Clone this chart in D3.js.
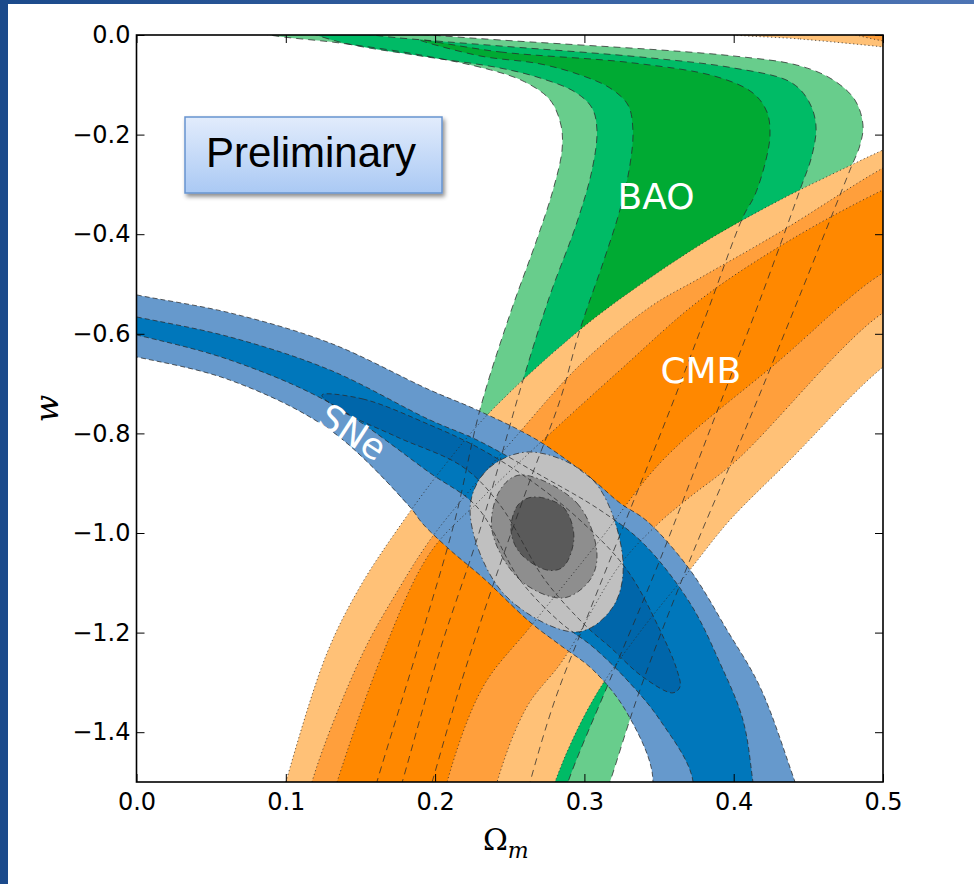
<!DOCTYPE html>
<html><head><meta charset="utf-8">
<script src="https://cdn.jsdelivr.net/npm/d3@7"></script>
<style>html,body{margin:0;padding:0;background:#fff;}svg{display:block;}</style>
</head><body>
<svg id="chart" width="974" height="884"></svg>
<script>
// Axis ticks
const xTicks = [0.0, 0.1, 0.2, 0.3, 0.4, 0.5];
const yTicks = [0.0, -0.2, -0.4, -0.6, -0.8, -1.0, -1.2, -1.4];

// Confidence contours, [Omega_m, w] (1, 2, 3 sigma)
const bao3 = [[0.063,0.018],[0.143,0.010],[0.2435,-0.010],[0.3995,-0.042],[0.4444,-0.062],[0.4665,-0.090],[0.4812,-0.1305],[0.4866,-0.181],[0.4846,-0.221],[0.4779,-0.271],[0.4444,-0.522],[0.4076,-0.793],[0.3707,-1.054],[0.3372,-1.315],[0.3171,-1.5],[0.3037,-1.617],[0.1497,-1.617],[0.161,-1.5],[0.190,-1.215],[0.2133,-0.974],[0.230,-0.753],[0.250,-0.562],[0.268,-0.412],[0.279,-0.311],[0.285,-0.231],[0.2843,-0.181],[0.277,-0.1305],[0.260,-0.094],[0.237,-0.070],[0.190,-0.040],[0.136,-0.016],[0.089,0.0]];
const bao2 = [[0.1095,0.014],[0.1765,-0.006],[0.2435,-0.022],[0.344,-0.046],[0.3995,-0.066],[0.4377,-0.094],[0.4498,-0.1305],[0.4551,-0.181],[0.4525,-0.241],[0.4444,-0.311],[0.4176,-0.532],[0.3841,-0.793],[0.3506,-1.054],[0.3171,-1.295],[0.289,-1.5],[0.277,-1.617],[0.1665,-1.617],[0.178,-1.5],[0.2033,-1.235],[0.230,-0.994],[0.2589,-0.693],[0.277,-0.522],[0.2944,-0.3815],[0.3051,-0.271],[0.3084,-0.191],[0.3051,-0.1466],[0.2937,-0.1145],[0.2703,-0.0863],[0.2435,-0.0663],[0.190,-0.042],[0.136,-0.014]];
const bao1 = [[0.190,-0.010],[0.2435,-0.034],[0.3325,-0.056],[0.3888,-0.084],[0.4129,-0.1165],[0.4223,-0.1546],[0.4243,-0.2008],[0.4216,-0.251],[0.4142,-0.3213],[0.4062,-0.3655],[0.3821,-0.558],[0.3573,-0.753],[0.3305,-0.954],[0.3037,-1.155],[0.2803,-1.335],[0.2636,-1.5],[0.2535,-1.617],[0.1865,-1.617],[0.198,-1.5],[0.218,-1.295],[0.240,-1.094],[0.2636,-0.894],[0.2837,-0.733],[0.297,-0.592],[0.3131,-0.452],[0.3238,-0.351],[0.3305,-0.261],[0.3325,-0.191],[0.3292,-0.1406],[0.3171,-0.1064],[0.297,-0.080],[0.2703,-0.058],[0.230,-0.042]];

const cmb3 = [[0.0894,-1.617],[0.100,-1.5],[0.1276,-1.241],[0.1497,-1.108],[0.1745,-0.994],[0.2066,-0.8635],[0.2368,-0.757],[0.297,-0.592],[0.3419,-0.492],[0.3861,-0.4056],[0.431,-0.3313],[0.4759,-0.2651],[0.5,-0.2309],[0.538,-0.181],[0.538,-0.592],[0.5,-0.6667],[0.4377,-0.8534],[0.3975,-0.974],[0.3707,-1.074],[0.3372,-1.199],[0.3058,-1.335],[0.2803,-1.5],[0.270,-1.617]];
const cmb2 = [[0.1095,-1.617],[0.1175,-1.5],[0.151,-1.245],[0.1752,-1.1145],[0.1966,-1.014],[0.2234,-0.9137],[0.2522,-0.813],[0.297,-0.6627],[0.344,-0.546],[0.3774,-0.488],[0.431,-0.3956],[0.5,-0.2671],[0.538,-0.211],[0.538,-0.512],[0.5,-0.558],[0.4022,-0.8534],[0.3707,-0.9277],[0.3506,-0.978],[0.3238,-1.064],[0.2857,-1.255],[0.2615,-1.349],[0.2415,-1.5],[0.2334,-1.617]];
const cmb1 = [[0.1229,-1.617],[0.1343,-1.5],[0.1651,-1.241],[0.1966,-1.040],[0.230,-0.934],[0.2703,-0.819],[0.3238,-0.673],[0.3774,-0.532],[0.4377,-0.412],[0.5,-0.311],[0.538,-0.261],[0.538,-0.432],[0.5,-0.478],[0.431,-0.6526],[0.3526,-0.8534],[0.3104,-1.014],[0.2636,-1.189],[0.2321,-1.309],[0.208,-1.5],[0.200,-1.617]];
const cmbTop3 = [[0.394,0.004],[0.4444,-0.008],[0.5,-0.024],[0.5315,-0.036],[0.5315,0.030],[0.420,0.020]];
const cmbTop2 = [[0.4745,0.010],[0.5,-0.012],[0.5315,-0.022],[0.5315,0.030]];

const sne3 = [[-0.0244,-0.506],[0.0003,-0.522],[0.0626,-0.558],[0.1296,-0.6185],[0.1966,-0.713],[0.2281,-0.753],[0.2682,-0.813],[0.3058,-0.8936],[0.3238,-0.9398],[0.3419,-0.976],[0.3707,-1.074],[0.3955,-1.1948],[0.4176,-1.309],[0.4411,-1.5],[0.4545,-1.617],[0.3305,-1.617],[0.3459,-1.5],[0.3285,-1.361],[0.3058,-1.275],[0.2837,-1.225],[0.2636,-1.179],[0.2321,-1.090],[0.210,-1.034],[0.1919,-0.982],[0.1832,-0.948],[0.1296,-0.793],[0.0626,-0.693],[0.0003,-0.6466],[-0.0244,-0.6325]];
const sne2 = [[-0.0244,-0.552],[0.0003,-0.5663],[0.0626,-0.6064],[0.1296,-0.6727],[0.1966,-0.7731],[0.2281,-0.8133],[0.2703,-0.8835],[0.3104,-0.9538],[0.3392,-1.0201],[0.3707,-1.1406],[0.3908,-1.261],[0.4062,-1.3755],[0.4129,-1.5],[0.4176,-1.617],[0.364,-1.617],[0.3728,-1.5],[0.3506,-1.3755],[0.3285,-1.295],[0.3058,-1.2289],[0.2837,-1.179],[0.2569,-1.0944],[0.2281,-0.9478],[0.1966,-0.8795],[0.1296,-0.739],[0.0626,-0.6526],[0.0003,-0.6024],[-0.0244,-0.586]];
const sne1 = [[0.1242,-0.7229],[0.1517,-0.7309],[0.1966,-0.7831],[0.2281,-0.8273],[0.2636,-0.8936],[0.297,-0.974],[0.3285,-1.074],[0.3506,-1.1948],[0.362,-1.2751],[0.364,-1.309],[0.3593,-1.321],[0.3392,-1.2892],[0.3171,-1.2289],[0.3017,-1.1888],[0.2736,-1.0944],[0.2435,-0.9438],[0.2187,-0.8675],[0.1745,-0.8072],[0.1363,-0.753]];

const comb3 = [[0.2636,-0.8373],[0.3058,-0.8936],[0.3258,-1.0542],[0.3191,-1.1486],[0.295,-1.1988],[0.2455,-1.1205],[0.2234,-0.9538],[0.2347,-0.8735]];
const comb2 = [[0.2569,-0.8835],[0.295,-0.9398],[0.3084,-1.0402],[0.3037,-1.0944],[0.2857,-1.1305],[0.2569,-1.0944],[0.2381,-0.994],[0.2435,-0.9137]];
const comb1 = [[0.2656,-0.9277],[0.2857,-0.9478],[0.293,-1.008],[0.2857,-1.0683],[0.2749,-1.0743],[0.2569,-1.0402],[0.2508,-0.994],[0.2555,-0.9438]];

const probes = [
  {name: "BAO",  levels: [bao3, bao2, bao1], colors: ["#68cd8c", "#00bb66", "#00aa33"], dash: "7,5"},
  {name: "CMB",  levels: [cmb3, cmbTop3, cmb2, cmbTop2, cmb1], colors: ["#ffc177", "#ffc177", "#ff9f3c", "#ff9f3c", "#ff8800"], dash: "1.2,2.6"},
  {name: "SNe",  levels: [sne3, sne2, sne1], colors: ["#6699cc", "#0077bb", "#0066aa"], dash: "5,3"},
  {name: "All",  levels: [comb3, comb2, comb1], colors: ["#c0c0c0", "#8e8e8e", "#5a5a5a"], dash: "6,3,1.5,3"}
];

// Probe names, placed at the centre of the lettering
const probeLabels = [
  {text: "BAO", at: [0.348, -0.323], rot: 0},
  {text: "CMB", at: [0.378, -0.673], rot: 0},
  {text: "SNe", at: [0.145, -0.797], rot: 33}
];

const W = 974, H = 884;
const svg = d3.select("#chart");
const x = d3.scaleLinear().domain([0, 0.5]).range([136.5, 883]);
const y = d3.scaleLinear().domain([0, -1.5]).range([35, 782]);

// Slide frame
const defs = svg.append("defs");
const topGrad = defs.append("linearGradient").attr("id", "topGrad");
topGrad.append("stop").attr("offset", "0%").attr("stop-color", "#1b4a8b");
topGrad.append("stop").attr("offset", "100%").attr("stop-color", "#4d74b4");
const boxGrad = defs.append("linearGradient").attr("id", "boxGrad").attr("x1", 0).attr("y1", 0).attr("x2", 0).attr("y2", 1);
boxGrad.append("stop").attr("offset", "0%").attr("stop-color", "#e2ecfc");
boxGrad.append("stop").attr("offset", "100%").attr("stop-color", "#aac9f4");
const shadow = defs.append("filter").attr("id", "shadow").attr("x", "-10%").attr("y", "-10%").attr("width", "130%").attr("height", "140%");
shadow.append("feDropShadow").attr("dx", 2).attr("dy", 3).attr("stdDeviation", 2).attr("flood-color", "#000").attr("flood-opacity", 0.45);
defs.append("clipPath").attr("id", "plotClip").append("rect")
  .attr("x", x(0)).attr("y", y(0)).attr("width", x(0.5) - x(0)).attr("height", y(-1.5) - y(0));

svg.append("rect").attr("x", 0).attr("y", 0).attr("width", W).attr("height", 4).attr("fill", "url(#topGrad)");
svg.append("rect").attr("x", 0).attr("y", 0).attr("width", 8).attr("height", H).attr("fill", "#1b4a8b");

const line = d3.line().x(d => x(d[0])).y(d => y(d[1])).curve(d3.curveCatmullRomClosed.alpha(0.5));

const plot = svg.append("g").attr("clip-path", "url(#plotClip)");
// Filled regions, then every contour outline on top
probes.forEach(p => {
  p.levels.forEach((lv, i) => {
    plot.append("path").attr("d", line(lv)).attr("fill", p.colors[i]).attr("stroke", "none");
  });
});
probes.forEach(p => {
  p.levels.forEach(lv => {
    plot.append("path").attr("d", line(lv)).attr("fill", "none")
      .attr("stroke", "#2a2a2a").attr("stroke-opacity", 0.75).attr("stroke-width", 1)
      .attr("stroke-dasharray", p.dash);
  });
});

probeLabels.forEach(l => {
  plot.append("text")
    .attr("transform", `translate(${x(l.at[0])},${y(l.at[1])}) rotate(${l.rot})`)
    .attr("text-anchor", "middle")
    .attr("dy", "0.36em")
    .attr("font-family", "DejaVu Sans")
    .attr("font-size", 36)
    .attr("fill", "#fff")
    .text(l.text);
});

// Axes: ticks point inward on all four sides
const tickLen = 8;
const fmt = d3.format(".1f");
const axisG = svg.append("g");
axisG.append("g").attr("transform", `translate(0,${y(-1.5)})`)
  .call(d3.axisBottom(x).tickValues(xTicks).tickFormat(fmt).tickSizeInner(-tickLen).tickSizeOuter(0).tickPadding(11));
axisG.append("g").attr("transform", `translate(0,${y(0)})`)
  .call(d3.axisTop(x).tickValues(xTicks).tickFormat("").tickSizeInner(-tickLen).tickSizeOuter(0));
axisG.append("g").attr("transform", `translate(${x(0)},0)`)
  .call(d3.axisLeft(y).tickValues(yTicks).tickFormat(fmt).tickSizeInner(-tickLen).tickSizeOuter(0).tickPadding(6));
axisG.append("g").attr("transform", `translate(${x(0.5)},0)`)
  .call(d3.axisRight(y).tickValues(yTicks).tickFormat("").tickSizeInner(-tickLen).tickSizeOuter(0));
axisG.selectAll(".domain").remove();
axisG.selectAll(".tick line").attr("stroke", "#000").attr("stroke-width", 1);
axisG.selectAll(".tick text").attr("font-family", "DejaVu Sans").attr("font-size", 24).attr("fill", "#000");

svg.append("rect").attr("x", x(0)).attr("y", y(0)).attr("width", x(0.5) - x(0)).attr("height", y(-1.5) - y(0))
  .attr("fill", "none").attr("stroke", "#000").attr("stroke-width", 1.6);

// Axis titles
const xt = svg.append("text").attr("x", (x(0) + x(0.5)) / 2 - 4).attr("y", 850).attr("text-anchor", "middle")
  .attr("font-family", "DejaVu Serif").attr("font-size", 30).attr("fill", "#000");
xt.append("tspan").text("Ω");
xt.append("tspan").attr("font-style", "italic").attr("font-size", 22).attr("dy", 8).text("m");
svg.append("text").attr("transform", `translate(58,${(y(0) + y(-1.5)) / 2}) rotate(-90)`)
  .attr("text-anchor", "middle").attr("font-family", "DejaVu Serif").attr("font-style", "italic")
  .attr("font-size", 32).attr("fill", "#000").text("w");

// Preliminary badge
svg.append("rect").attr("x", 185).attr("y", 117).attr("width", 257).attr("height", 76)
  .attr("fill", "url(#boxGrad)").attr("stroke", "#6794cf").attr("stroke-width", 1.5).attr("filter", "url(#shadow)");
svg.append("text").attr("x", 311).attr("y", 167).attr("text-anchor", "middle")
  .attr("font-family", "Liberation Sans").attr("font-size", 42).attr("fill", "#000").text("Preliminary");
</script>
</body></html>
